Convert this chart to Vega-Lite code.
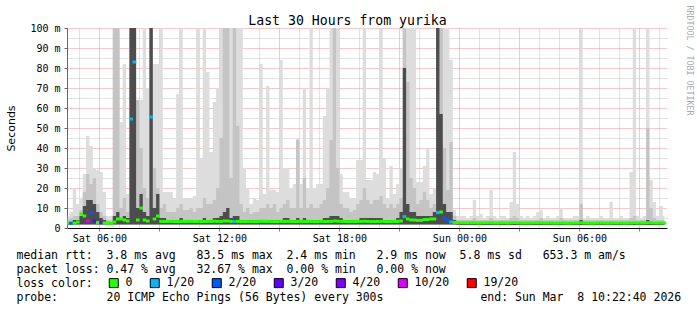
{
  "$schema": "https://vega.github.io/schema/vega-lite/v6.json",
  "width": 600,
  "height": 200,
  "autosize": {"type": "none"},
  "padding": {"left": 67, "top": 28, "right": 30, "bottom": 82},
  "background": "#ffffff",
  "title": {
    "text": "Last 30 Hours from yurika",
    "font": "DejaVu Sans Mono", "fontSize": 13.2, "fontWeight": "normal", "color": "#000000",
    "anchor": "middle", "frame": "group", "dx": -19.5, "baseline": "alphabetic", "offset": -33
  },
  "config": {
    "view": {"stroke": null},
    "axis": {"labelFont": "DejaVu Sans Mono", "labelFontSize": 10, "labelColor": "#000000", "titleColor": "#000000"}
  },
  "data": {"values": [
    {"h":4.417,"n":1.8,"a":6,"b":4,"c":3,"m":2.5,"l":"0"},
    {"h":4.583,"n":1.8,"a":8,"b":5,"c":3,"m":2.4,"l":"2/20"},
    {"h":4.75,"n":1.8,"a":20,"b":6,"c":4,"m":2.4,"l":"0"},
    {"h":4.917,"n":1.8,"a":12,"b":6,"c":4,"m":3,"l":"0"},
    {"h":5.083,"n":1.8,"a":15,"b":9,"c":6,"m":7,"l":"0"},
    {"h":5.25,"n":1.8,"a":27,"b":18,"c":11,"m":6,"l":"0"},
    {"h":5.417,"n":1.8,"a":46,"b":27,"c":14,"m":3.5,"l":"10/20"},
    {"h":5.583,"n":1.8,"a":41,"b":22,"c":14,"m":7.5,"l":"2/20"},
    {"h":5.75,"n":1.8,"a":30,"b":25,"c":12,"m":3.5,"l":"3/20"},
    {"h":5.917,"n":1.8,"a":29,"b":12,"c":8,"m":2.7,"l":"0"},
    {"h":6.083,"n":1.8,"a":28,"b":8,"c":5,"m":2.6,"l":"4/20"},
    {"h":6.25,"n":1.8,"a":18,"b":6,"c":4,"m":2.5,"l":"0"},
    {"h":6.417,"n":1.8,"a":6,"b":4,"c":3,"m":2.5,"l":"0"},
    {"h":6.583,"n":1.8,"a":6,"b":4,"c":3,"m":2.3,"l":"0"},
    {"h":6.75,"n":1.8,"a":110,"b":110,"c":6,"m":3,"l":"0"},
    {"h":6.917,"n":1.8,"a":110,"b":110,"c":8,"m":4.5,"l":"0"},
    {"h":7.083,"n":1.8,"a":53,"b":10,"c":5,"m":4.5,"l":"0"},
    {"h":7.25,"n":1.8,"a":82,"b":15,"c":6,"m":4,"l":"0"},
    {"h":7.417,"n":1.8,"a":17,"b":8,"c":5,"m":3.5,"l":"0"},
    {"h":7.583,"n":1.8,"a":110,"b":110,"c":110,"m":54.5,"l":"1/20"},
    {"h":7.75,"n":1.8,"a":110,"b":110,"c":110,"m":83,"l":"1/20"},
    {"h":7.917,"n":1.8,"a":64,"b":64,"c":10,"m":4,"l":"0"},
    {"h":8.083,"n":1.8,"a":64,"b":40,"c":17,"m":10,"l":"0"},
    {"h":8.25,"n":1.8,"a":110,"b":20,"c":8,"m":4,"l":"0"},
    {"h":8.417,"n":1.8,"a":70,"b":15,"c":6,"m":3.5,"l":"0"},
    {"h":8.583,"n":1.8,"a":110,"b":110,"c":110,"m":55.5,"l":"1/20"},
    {"h":8.75,"n":1.8,"a":82,"b":30,"c":10,"m":4.5,"l":"0"},
    {"h":8.917,"n":1.8,"a":82,"b":20,"c":17,"m":6,"l":"0"},
    {"h":9.083,"n":1.8,"a":110,"b":10,"c":5,"m":3.3,"l":"0"},
    {"h":9.25,"n":1.8,"a":18,"b":12,"c":5,"m":3.3,"l":"0"},
    {"h":9.417,"n":1.8,"a":18,"b":8,"c":4,"m":3.3,"l":"0"},
    {"h":9.583,"n":1.8,"a":18,"b":8,"c":4,"m":3.3,"l":"0"},
    {"h":9.75,"n":1.8,"a":15,"b":8,"c":4,"m":3.2,"l":"0"},
    {"h":9.917,"n":1.8,"a":67,"b":10,"c":4,"m":3.2,"l":"0"},
    {"h":10.083,"n":1.8,"a":110,"b":12,"c":5,"m":3.3,"l":"0"},
    {"h":10.25,"n":1.8,"a":15,"b":9,"c":4,"m":3.3,"l":"0"},
    {"h":10.417,"n":1.8,"a":15,"b":9,"c":4,"m":3.3,"l":"0"},
    {"h":10.583,"n":1.8,"a":15,"b":10,"c":4,"m":3.3,"l":"0"},
    {"h":10.75,"n":1.8,"a":16,"b":8,"c":4,"m":3.2,"l":"0"},
    {"h":10.917,"n":1.8,"a":110,"b":10,"c":4,"m":3.3,"l":"0"},
    {"h":11.083,"n":1.8,"a":35,"b":10,"c":4,"m":3.2,"l":"0"},
    {"h":11.25,"n":1.8,"a":110,"b":15,"c":5,"m":3.3,"l":"0"},
    {"h":11.417,"n":1.8,"a":78,"b":12,"c":4,"m":3.3,"l":"0"},
    {"h":11.583,"n":1.8,"a":38,"b":12,"c":4,"m":3.3,"l":"0"},
    {"h":11.75,"n":1.8,"a":63,"b":14,"c":5,"m":3.4,"l":"0"},
    {"h":11.917,"n":1.8,"a":70,"b":20,"c":5,"m":3.3,"l":"0"},
    {"h":12.083,"n":1.8,"a":110,"b":45,"c":6,"m":3.3,"l":"0"},
    {"h":12.25,"n":1.8,"a":110,"b":110,"c":8,"m":3.5,"l":"0"},
    {"h":12.417,"n":1.8,"a":110,"b":110,"c":10,"m":3.5,"l":"0"},
    {"h":12.583,"n":1.8,"a":110,"b":25,"c":5,"m":3.3,"l":"0"},
    {"h":12.75,"n":1.8,"a":110,"b":110,"c":6,"m":3.3,"l":"1/20"},
    {"h":12.917,"n":1.8,"a":110,"b":51,"c":6,"m":3.3,"l":"0"},
    {"h":13.083,"n":1.8,"a":110,"b":12,"c":4,"m":3.2,"l":"0"},
    {"h":13.25,"n":1.8,"a":30,"b":8,"c":4,"m":3.2,"l":"0"},
    {"h":13.417,"n":1.8,"a":20,"b":10,"c":4,"m":3.3,"l":"0"},
    {"h":13.583,"n":1.8,"a":12,"b":7,"c":4,"m":3.2,"l":"0"},
    {"h":13.75,"n":1.8,"a":15,"b":8,"c":4,"m":3.2,"l":"0"},
    {"h":13.917,"n":1.8,"a":14,"b":8,"c":4,"m":3.2,"l":"0"},
    {"h":14.083,"n":1.8,"a":82,"b":10,"c":4,"m":3.3,"l":"0"},
    {"h":14.25,"n":1.8,"a":17,"b":10,"c":4,"m":3.3,"l":"0"},
    {"h":14.417,"n":1.8,"a":71,"b":12,"c":4,"m":3.3,"l":"0"},
    {"h":14.583,"n":1.8,"a":19,"b":10,"c":4,"m":3.2,"l":"0"},
    {"h":14.75,"n":1.8,"a":19,"b":12,"c":4,"m":3.2,"l":"0"},
    {"h":14.917,"n":1.8,"a":18,"b":8,"c":4,"m":3.2,"l":"0"},
    {"h":15.083,"n":1.8,"a":84,"b":10,"c":4,"m":3.3,"l":"0"},
    {"h":15.25,"n":1.8,"a":30,"b":12,"c":5,"m":3.3,"l":"0"},
    {"h":15.417,"n":1.8,"a":30,"b":14,"c":5,"m":3.3,"l":"0"},
    {"h":15.583,"n":1.8,"a":20,"b":10,"c":4,"m":3.2,"l":"0"},
    {"h":15.75,"n":1.8,"a":22,"b":10,"c":4,"m":3.2,"l":"0"},
    {"h":15.917,"n":1.8,"a":45,"b":44,"c":5,"m":3.3,"l":"0"},
    {"h":16.083,"n":1.8,"a":22,"b":10,"c":4,"m":3.2,"l":"0"},
    {"h":16.25,"n":1.8,"a":70,"b":25,"c":5,"m":3.3,"l":"0"},
    {"h":16.417,"n":1.8,"a":20,"b":10,"c":4,"m":3.2,"l":"0"},
    {"h":16.583,"n":1.8,"a":110,"b":12,"c":4,"m":3.3,"l":"0"},
    {"h":16.75,"n":1.8,"a":20,"b":10,"c":4,"m":3.2,"l":"0"},
    {"h":16.917,"n":1.8,"a":22,"b":10,"c":4,"m":3.2,"l":"0"},
    {"h":17.083,"n":1.8,"a":22,"b":12,"c":4,"m":3.3,"l":"0"},
    {"h":17.25,"n":1.8,"a":56,"b":14,"c":5,"m":3.3,"l":"0"},
    {"h":17.417,"n":1.8,"a":70,"b":20,"c":5,"m":3.3,"l":"0"},
    {"h":17.583,"n":1.8,"a":110,"b":44,"c":6,"m":3.3,"l":"0"},
    {"h":17.75,"n":1.8,"a":110,"b":110,"c":6,"m":3.5,"l":"0"},
    {"h":17.917,"n":1.8,"a":110,"b":30,"c":6,"m":3.4,"l":"0"},
    {"h":18.083,"n":1.8,"a":27,"b":12,"c":5,"m":3.3,"l":"0"},
    {"h":18.25,"n":1.8,"a":18,"b":10,"c":4,"m":3.3,"l":"0"},
    {"h":18.417,"n":1.8,"a":18,"b":10,"c":4,"m":3.2,"l":"0"},
    {"h":18.583,"n":1.8,"a":15,"b":8,"c":4,"m":3.2,"l":"0"},
    {"h":18.75,"n":1.8,"a":15,"b":9,"c":4,"m":3.2,"l":"0"},
    {"h":18.917,"n":1.8,"a":34,"b":12,"c":4,"m":3.3,"l":"0"},
    {"h":19.083,"n":1.8,"a":34,"b":14,"c":5,"m":3.3,"l":"0"},
    {"h":19.25,"n":1.8,"a":110,"b":20,"c":5,"m":3.4,"l":"0"},
    {"h":19.417,"n":1.8,"a":24,"b":14,"c":5,"m":3.3,"l":"0"},
    {"h":19.583,"n":1.8,"a":24,"b":12,"c":5,"m":3.2,"l":"0"},
    {"h":19.75,"n":1.8,"a":28,"b":14,"c":5,"m":3.2,"l":"0"},
    {"h":19.917,"n":1.8,"a":27,"b":14,"c":5,"m":3.3,"l":"0"},
    {"h":20.083,"n":1.8,"a":110,"b":16,"c":5,"m":3.3,"l":"0"},
    {"h":20.25,"n":1.8,"a":35,"b":12,"c":4,"m":3.3,"l":"0"},
    {"h":20.417,"n":1.8,"a":15,"b":10,"c":4,"m":3.2,"l":"0"},
    {"h":20.583,"n":1.8,"a":31,"b":12,"c":4,"m":3.2,"l":"0"},
    {"h":20.75,"n":1.8,"a":17,"b":10,"c":4,"m":3.3,"l":"0"},
    {"h":20.917,"n":1.8,"a":22,"b":12,"c":5,"m":3.3,"l":"0"},
    {"h":21.083,"n":1.8,"a":30,"b":15,"c":8,"m":3.5,"l":"0"},
    {"h":21.25,"n":1.8,"a":110,"b":110,"c":80,"m":5.7,"l":"1/20"},
    {"h":21.417,"n":1.8,"a":110,"b":73,"c":12,"m":4.5,"l":"0"},
    {"h":21.583,"n":1.8,"a":110,"b":25,"c":8,"m":4,"l":"0"},
    {"h":21.75,"n":1.8,"a":110,"b":20,"c":8,"m":4,"l":"0"},
    {"h":21.917,"n":1.8,"a":23,"b":12,"c":6,"m":3.8,"l":"0"},
    {"h":22.083,"n":1.8,"a":23,"b":14,"c":6,"m":3.8,"l":"0"},
    {"h":22.25,"n":1.8,"a":31,"b":18,"c":6,"m":4.2,"l":"0"},
    {"h":22.417,"n":1.8,"a":40,"b":14,"c":6,"m":4.2,"l":"0"},
    {"h":22.583,"n":1.8,"a":17,"b":10,"c":6,"m":4.5,"l":"0"},
    {"h":22.75,"n":1.8,"a":20,"b":12,"c":8,"m":4.5,"l":"0"},
    {"h":22.917,"n":1.8,"a":110,"b":110,"c":110,"m":7.7,"l":"1/20"},
    {"h":23.083,"n":1.8,"a":110,"b":110,"c":57,"m":8,"l":"0"},
    {"h":23.25,"n":1.8,"a":110,"b":40,"c":12,"m":5,"l":"2/20"},
    {"h":23.417,"n":1.8,"a":110,"b":19,"c":8,"m":4,"l":"2/20"},
    {"h":23.583,"n":1.8,"a":84,"b":43,"c":8,"m":3,"l":"1/20"},
    {"h":23.75,"n":1.7,"a":9,"b":6,"c":4,"m":2.8,"l":"0"},
    {"h":23.917,"n":1.6,"a":6,"b":4,"c":3,"m":2.7,"l":"0"},
    {"h":24.083,"n":1.5,"a":6,"b":4,"c":3,"m":2.6,"l":"0"},
    {"h":24.25,"n":1.5,"a":6,"b":4,"c":3,"m":2.6,"l":"0"},
    {"h":24.417,"n":1.5,"a":5,"b":4,"c":3,"m":2.6,"l":"0"},
    {"h":24.583,"n":1.5,"a":6,"b":4,"c":3,"m":2.6,"l":"0"},
    {"h":24.75,"n":1.5,"a":14,"b":5,"c":3,"m":2.6,"l":"0"},
    {"h":24.917,"n":1.5,"a":6,"b":4,"c":3,"m":2.5,"l":"0"},
    {"h":25.083,"n":1.5,"a":7,"b":4,"c":3,"m":2.5,"l":"0"},
    {"h":25.25,"n":1.5,"a":5,"b":4,"c":3,"m":2.6,"l":"0"},
    {"h":25.417,"n":1.5,"a":6,"b":4,"c":3,"m":2.6,"l":"0"},
    {"h":25.583,"n":1.5,"a":19,"b":5,"c":3,"m":2.6,"l":"0"},
    {"h":25.75,"n":1.5,"a":6,"b":4,"c":3,"m":2.5,"l":"0"},
    {"h":25.917,"n":1.5,"a":5,"b":4,"c":3,"m":2.5,"l":"0"},
    {"h":26.083,"n":1.5,"a":6,"b":4,"c":3,"m":2.6,"l":"0"},
    {"h":26.25,"n":1.5,"a":6,"b":4,"c":3,"m":2.6,"l":"0"},
    {"h":26.417,"n":1.5,"a":5,"b":4,"c":3,"m":2.5,"l":"0"},
    {"h":26.583,"n":1.5,"a":13,"b":5,"c":3,"m":2.6,"l":"0"},
    {"h":26.75,"n":1.5,"a":38,"b":6,"c":3,"m":2.7,"l":"0"},
    {"h":26.917,"n":1.5,"a":12,"b":5,"c":3,"m":2.6,"l":"0"},
    {"h":27.083,"n":1.5,"a":6,"b":4,"c":3,"m":2.5,"l":"0"},
    {"h":27.25,"n":1.5,"a":5,"b":4,"c":3,"m":2.5,"l":"0"},
    {"h":27.417,"n":1.5,"a":6,"b":4,"c":3,"m":2.5,"l":"0"},
    {"h":27.583,"n":1.5,"a":5,"b":4,"c":3,"m":2.5,"l":"0"},
    {"h":27.75,"n":1.5,"a":6,"b":4,"c":3,"m":2.6,"l":"0"},
    {"h":27.917,"n":1.5,"a":8,"b":4,"c":3,"m":2.6,"l":"0"},
    {"h":28.083,"n":1.5,"a":9,"b":5,"c":3,"m":2.6,"l":"0"},
    {"h":28.25,"n":1.5,"a":5,"b":4,"c":3,"m":2.5,"l":"0"},
    {"h":28.417,"n":1.5,"a":6,"b":4,"c":3,"m":2.5,"l":"0"},
    {"h":28.583,"n":1.5,"a":5,"b":4,"c":3,"m":2.5,"l":"0"},
    {"h":28.75,"n":1.5,"a":5,"b":4,"c":3,"m":2.4,"l":"0"},
    {"h":28.917,"n":1.5,"a":6,"b":4,"c":3,"m":2.5,"l":"0"},
    {"h":29.083,"n":1.5,"a":10,"b":5,"c":3,"m":2.5,"l":"0"},
    {"h":29.25,"n":1.5,"a":5,"b":4,"c":3,"m":2.5,"l":"0"},
    {"h":29.417,"n":1.5,"a":5,"b":4,"c":3,"m":2.4,"l":"0"},
    {"h":29.583,"n":1.5,"a":5,"b":4,"c":3,"m":2.4,"l":"0"},
    {"h":29.75,"n":1.5,"a":6,"b":4,"c":3,"m":2.5,"l":"0"},
    {"h":29.917,"n":1.5,"a":6,"b":4,"c":3,"m":2.5,"l":"0"},
    {"h":30.083,"n":1.5,"a":110,"b":12,"c":4,"m":2.6,"l":"0"},
    {"h":30.25,"n":1.5,"a":5,"b":4,"c":3,"m":2.5,"l":"0"},
    {"h":30.417,"n":1.5,"a":6,"b":4,"c":3,"m":2.5,"l":"0"},
    {"h":30.583,"n":1.5,"a":5,"b":4,"c":3,"m":2.4,"l":"0"},
    {"h":30.75,"n":1.5,"a":5,"b":4,"c":3,"m":2.4,"l":"0"},
    {"h":30.917,"n":1.5,"a":5,"b":4,"c":3,"m":2.5,"l":"0"},
    {"h":31.083,"n":1.5,"a":6,"b":4,"c":3,"m":2.5,"l":"0"},
    {"h":31.25,"n":1.5,"a":5,"b":4,"c":3,"m":2.5,"l":"0"},
    {"h":31.417,"n":1.5,"a":5,"b":4,"c":3,"m":2.4,"l":"0"},
    {"h":31.583,"n":1.5,"a":13,"b":4,"c":3,"m":2.5,"l":"0"},
    {"h":31.75,"n":1.5,"a":5,"b":4,"c":3,"m":2.5,"l":"0"},
    {"h":31.917,"n":1.5,"a":5,"b":4,"c":3,"m":2.5,"l":"0"},
    {"h":32.083,"n":1.5,"a":6,"b":4,"c":3,"m":2.5,"l":"0"},
    {"h":32.25,"n":1.5,"a":5,"b":4,"c":3,"m":2.4,"l":"0"},
    {"h":32.417,"n":1.5,"a":5,"b":4,"c":3,"m":2.5,"l":"0"},
    {"h":32.583,"n":1.5,"a":28,"b":5,"c":3,"m":2.5,"l":"0"},
    {"h":32.75,"n":1.5,"a":110,"b":6,"c":3,"m":2.6,"l":"0"},
    {"h":32.917,"n":1.5,"a":6,"b":4,"c":3,"m":2.5,"l":"0"},
    {"h":33.083,"n":1.5,"a":5,"b":4,"c":3,"m":2.5,"l":"0"},
    {"h":33.25,"n":1.5,"a":6,"b":4,"c":3,"m":2.5,"l":"0"},
    {"h":33.417,"n":1.5,"a":110,"b":50,"c":4,"m":2.6,"l":"0"},
    {"h":33.583,"n":1.5,"a":24,"b":10,"c":3,"m":2.6,"l":"0"},
    {"h":33.75,"n":1.5,"a":13,"b":5,"c":3,"m":2.5,"l":"0"},
    {"h":33.917,"n":1.5,"a":6,"b":4,"c":3,"m":2.5,"l":"0"},
    {"h":34.083,"n":1.5,"a":11,"b":4,"c":3,"m":2.5,"l":"0"},
    {"h":34.25,"n":1.5,"a":6,"b":4,"c":3,"m":2.5,"l":"0"}
  ]},
  "layer": [
    {
      "mark": {"type": "area", "interpolate": "step", "color": "#dddddd", "clip": true},
      "encoding": {
        "x": {"field": "h", "type": "quantitative", "scale": {"domain": [4.378, 34.378], "nice": false, "zero": false},
          "axis": {"orient": "bottom", "values": [6,9,12,15,18,21,24,27,30,33],
            "labelExpr": "datum.value % 6 ? '' : (datum.value < 24 ? 'Sat ' : 'Sun ') + (datum.value % 24 < 10 ? '0' : '') + (datum.value % 24) + ':00'",
            "labelOverlap": false, "labelFlush": false, "labelPadding": 2,
            "grid": true, "gridColor": "#f09090", "gridDash": [1, 1],
            "domainColor": "#000000", "tickColor": "#e06060", "tickSize": 3,
            "title": ["median rtt:\u00a0\u00a03.8 ms avg\u00a0\u00a0\u00a083.5 ms max\u00a0\u00a02.4 ms min\u00a0\u00a0\u00a02.9 ms now\u00a0\u00a05.8 ms sd\u00a0\u00a0\u00a0653.3 m am/s",
                      "packet loss: 0.47 % avg\u00a0\u00a0\u00a032.67 % max\u00a0\u00a00.00 % min\u00a0\u00a0\u00a00.00 % now",
                      "loss color:",
                      "probe:\u00a0\u00a0\u00a0\u00a0\u00a0\u00a0\u00a020 ICMP Echo Pings (56 Bytes) every 300s\u00a0\u00a0\u00a0\u00a0\u00a0\u00a0\u00a0\u00a0\u00a0\u00a0\u00a0\u00a0\u00a0\u00a0end: Sun Mar\u00a0\u00a08 10:22:40 2026"],
            "titleFont": "DejaVu Sans Mono", "titleFontSize": 11.5, "titleFontWeight": "normal",
            "titleAnchor": "start", "titleAlign": "left", "titleBaseline": "alphabetic",
            "titleX": -51, "titleY": 30, "titleLineHeight": 14, "titleLimit": 1000}},
        "y": {"field": "a", "type": "quantitative", "scale": {"domain": [0, 100], "nice": false},
          "axis": {"orient": "left", "values": [0,10,20,30,40,50,60,70,80,90,100],
            "labelExpr": "datum.value == 0 ? '0' : datum.value + ' m'",
            "grid": true, "gridColor": "#f09090", "gridDash": [1, 1],
            "domainColor": "#666666", "tickColor": "#666666", "tickSize": 3, "labelPadding": 4,
            "title": "Seconds", "titleFont": "DejaVu Sans", "titleFontSize": 11, "titleFontWeight": "normal",
            "titleX": -56, "titleY": 100, "titleAlign": "center", "titleBaseline": "middle", "titleAngle": -90}},
        "y2": {"field": "n"}
      }
    },
    {
      "mark": {"type": "area", "interpolate": "step", "color": "#c4c4c4", "clip": true},
      "encoding": {
        "x": {"field": "h", "type": "quantitative", "scale": {"domain": [4.378, 34.378], "nice": false, "zero": false},
          "axis": {"orient": "top", "values": [5,7,8,10,11,13,14,16,17,19,20,22,23,25,26,28,29,31,32,34],
            "labels": false, "ticks": false, "domain": false, "grid": true, "gridColor": "#c4c4c4", "gridDash": [1, 1], "title": null}},
        "y": {"field": "b", "type": "quantitative", "scale": {"domain": [0, 100], "nice": false},
          "axis": {"orient": "right", "values": [5,15,25,35,45,55,65,75,85,95],
            "labels": false, "ticks": false, "domain": false, "grid": true, "gridColor": "#c4c4c4", "gridDash": [1, 1],
            "title": "RRDTOOL / TOBI OETIKER", "titleFont": "DejaVu Sans Mono", "titleFontSize": 8.3, "titleFontWeight": "normal",
            "titleColor": "#aaaaaa", "titleAngle": 90, "titleX": 21, "titleY": 32, "titleAlign": "center", "titleBaseline": "middle"}},
        "y2": {"field": "n"}
      }
    },
    {
      "mark": {"type": "area", "interpolate": "step", "color": "#4d4d4d", "clip": true},
      "encoding": {
        "x": {"field": "h", "type": "quantitative", "scale": {"domain": [4.378, 34.378], "nice": false, "zero": false}, "axis": null},
        "y": {"field": "c", "type": "quantitative", "scale": {"domain": [0, 100], "nice": false}, "axis": null},
        "y2": {"field": "n"}
      }
    },
    {
      "mark": {"type": "tick", "orient": "horizontal", "thickness": 3, "size": 3.6, "clip": true, "opacity": 1},
      "encoding": {
        "x": {"field": "h", "type": "quantitative", "scale": {"domain": [4.378, 34.378], "nice": false, "zero": false}, "axis": null},
        "y": {"field": "m", "type": "quantitative", "scale": {"domain": [0, 100], "nice": false}, "axis": null},
        "color": {"field": "l", "type": "nominal",
          "scale": {"domain": ["0","1/20","2/20","3/20","4/20","10/20","19/20"],
                    "range": ["#26ff00","#00b8ff","#0059ff","#5e00ff","#7e00ff","#dd00ff","#ff0000"]},
          "legend": {"orient": "none", "legendX": 41, "legendY": 249, "direction": "horizontal", "title": null,
            "labelFont": "DejaVu Sans Mono", "labelFontSize": 11.5, "labelColor": "#000000", "labelOffset": 6,
            "symbolType": "square", "symbolSize": 81, "symbolStrokeColor": "#000000", "symbolStrokeWidth": 1, "symbolOpacity": 1,
            "columnPadding": 15, "padding": 0}}
      }
    }
  ],
  "resolve": {"axis": {"x": "independent", "y": "independent"}}
}
